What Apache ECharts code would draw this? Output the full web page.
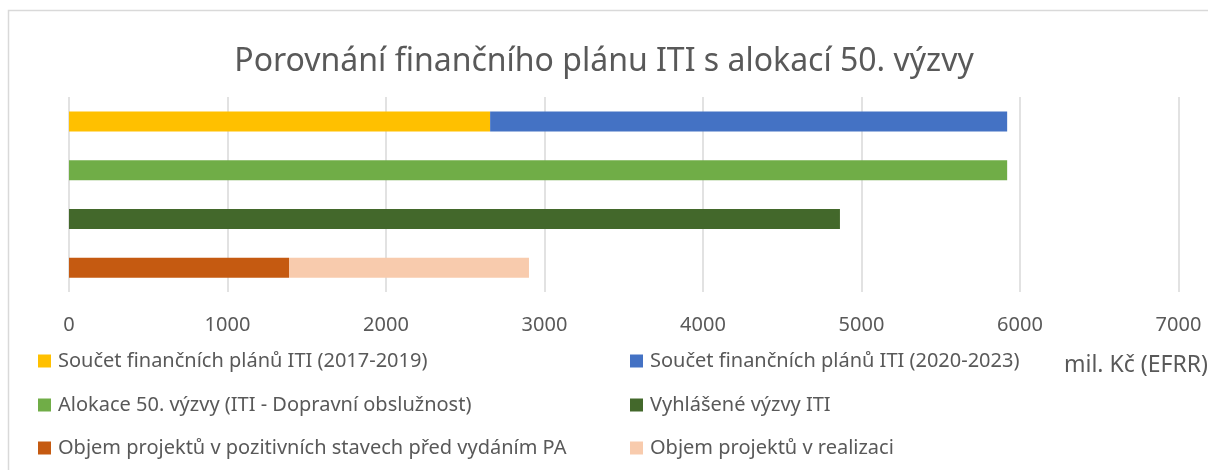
<!DOCTYPE html>
<html lang="cs">
<head>
    <meta charset="utf-8">
    <title>Porovnání finančního plánu ITI</title>
    <style>
        * {
            margin: 0;
            padding: 0;
        }

        #chart {
            width: 1208px;
            height: 470px;
            background: #fff;
        }
    </style>
</head>
<body>
<div id="chart"></div>
<script src="https://cdn.jsdelivr.net/npm/echarts@6/dist/echarts.min.js"></script>
<script>
    // data (mil. Kč), one row per bar, top to bottom
    const categories = ['Plán', 'Alokace', 'Výzvy', 'Projekty'];
    const plan2017 = [2657, '-', '-', '-'];
    const plan2020 = [3262, '-', '-', '-'];
    const alokace50 = ['-', 5919, '-', '-'];
    const vyhlaseneVyzvy = ['-', '-', 4864, '-'];
    const pozitivniStavy = ['-', '-', '-', 1388];
    const realizace = ['-', '-', '-', 1514];
    const xTicks = { min: 0, max: 7000, interval: 1000 };

    const seriesDefs = [
        { name: 'Součet finančních plánů ITI (2017-2019)', data: plan2017, color: '#FFC000' },
        { name: 'Součet finančních plánů ITI (2020-2023)', data: plan2020, color: '#4472C4' },
        { name: 'Alokace 50. výzvy (ITI - Dopravní obslužnost)', data: alokace50, color: '#70AD47' },
        { name: 'Vyhlášené výzvy ITI', data: vyhlaseneVyzvy, color: '#43682B' },
        { name: 'Objem projektů v pozitivních stavech před vydáním PA', data: pozitivniStavy, color: '#C55A11' },
        { name: 'Objem projektů v realizaci', data: realizace, color: '#F8CBAD' }
    ];

    const font = '"Noto Sans", sans-serif';
    const grey = '#595959';

    // legend laid out in two columns, three rows (one legend per entry)
    const legendCols = [38, 630];
    const legendRows = [361, 405, 448];
    const legends = seriesDefs.map(function (s, i) {
        return {
            left: legendCols[i % 2],
            top: legendRows[Math.floor(i / 2)] - 11,
            padding: 0,
            itemWidth: 13,
            itemHeight: 13,
            icon: 'rect',
            selectedMode: false,
            data: [s.name],
            textStyle: { fontFamily: font, fontSize: 20, color: grey, lineHeight: 22, padding: [0, 0, 0, 2] }
        };
    });

    const chart = echarts.init(document.getElementById('chart'), null, { renderer: 'canvas' });
    chart.setOption({
        animation: false,
        title: {
            text: 'Porovnání finančního plánu ITI s alokací 50. výzvy',
            left: 'center',
            top: 41,
            textStyle: { fontFamily: font, fontSize: 32, fontWeight: 'normal', color: grey }
        },
        legend: legends,
        grid: { left: 69, right: 29.5, top: 97, bottom: 178, containLabel: false },
        xAxis: {
            type: 'value',
            min: xTicks.min,
            max: xTicks.max,
            interval: xTicks.interval,
            axisLine: { show: false },
            axisTick: { show: false },
            axisLabel: {
                fontFamily: font, fontSize: 20, color: grey, margin: 23,
                formatter: function (v) { return String(v); }
            },
            splitLine: { lineStyle: { color: '#d9d9d9', width: 1.5 } }
        },
        yAxis: {
            type: 'category',
            data: categories,
            inverse: true,
            axisLine: { show: false },
            axisTick: { show: false },
            axisLabel: { show: false }
        },
        series: seriesDefs.map(function (s) {
            return {
                type: 'bar',
                name: s.name,
                stack: 'total',
                barWidth: 20,
                data: s.data,
                itemStyle: { color: s.color }
            };
        }),
        graphic: [
            {
                type: 'rect',
                silent: true,
                shape: { x: 8.5, y: 10.5, width: 1300, height: 500 },
                style: { fill: 'none', stroke: '#d9d9d9', lineWidth: 1.5 }
            },
            {
                type: 'text',
                x: 1064,
                y: 365,
                style: { text: 'mil. Kč (EFRR)', font: '23px ' + font, fill: grey, align: 'left', verticalAlign: 'middle' }
            }
        ]
    });
</script>
</body>
</html>
